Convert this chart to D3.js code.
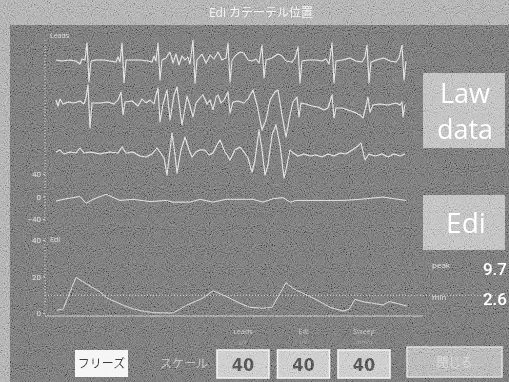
<!DOCTYPE html>
<html>
<head>
<meta charset="utf-8">
<script src="https://cdn.jsdelivr.net/npm/d3@7"></script>
<style>
  body { margin: 0; background: #6b6b6b; }
  svg { display: block; }
  text { font-family: "Open Sans", "Noto Sans CJK JP", sans-serif; }
</style>
</head>
<body>
<div id="mapa"></div>
<script>
const title = 'Edi カテーテル位置';

// time in px-like samples (0..350), values in lead units
const lead1 = [[0,2],[6,0],[14,2],[20,0],[24,-6],[26,4],[29,2],[31,36],[33,-42],[35,0],[40,2],[48,2],[54,0],[60,-2],[62,8],[64,-2],[66,36],[68,-44],[70,2],[76,2],[84,2],[92,0],[96,-2],[98,10],[100,0],[102,36],[104,-38],[106,2],[110,6],[114,18],[117,-4],[120,14],[123,-8],[126,10],[129,2],[132,8],[134,-6],[137,42],[139,-44],[141,2],[146,14],[150,-4],[154,12],[158,4],[162,18],[166,2],[170,6],[172,36],[174,-42],[176,2],[180,12],[184,18],[188,16],[192,2],[196,0],[200,4],[203,-4],[206,32],[208,-34],[210,2],[216,6],[222,14],[226,10],[230,0],[236,-2],[239,6],[242,28],[244,-44],[246,0],[252,2],[260,2],[266,0],[270,4],[273,-6],[276,36],[278,-44],[280,0],[286,2],[294,6],[300,0],[306,-2],[309,8],[311,32],[313,-44],[315,-2],[320,2],[328,6],[334,0],[340,-2],[343,6],[346,32],[348,-38],[350,0]];

const lead2 = [[0,6],[2,-6],[4,8],[7,-2],[12,2],[18,0],[24,4],[28,-2],[30,10],[32,36],[34,-50],[36,0],[44,0],[52,2],[58,-2],[62,6],[65,22],[67,-24],[69,2],[76,4],[82,-6],[86,8],[90,0],[94,6],[98,-2],[100,16],[102,30],[104,-38],[107,-2],[111,26],[114,-34],[118,16],[121,32],[124,-14],[126,-44],[129,-10],[131,14],[134,-6],[137,-28],[140,0],[144,10],[147,16],[151,-2],[154,6],[157,-14],[160,12],[162,16],[165,0],[168,6],[172,22],[174,-20],[177,2],[182,4],[188,0],[192,8],[197,26],[201,-4],[206,-54],[210,-34],[214,6],[219,22],[222,26],[226,-24],[230,-68],[234,-24],[237,2],[241,12],[243,-28],[245,0],[250,-2],[256,-6],[262,-8],[268,-14],[272,-10],[276,16],[278,-30],[280,-10],[286,-10],[292,-14],[298,-18],[304,-24],[307,-30],[310,-6],[312,12],[314,-18],[317,-4],[324,-2],[332,-4],[340,0],[344,-4],[346,2],[347,-28],[349,-2]];

const lead3 = [[0,2],[4,6],[8,-2],[14,2],[20,0],[24,10],[28,0],[34,2],[44,-2],[54,2],[62,0],[66,12],[70,0],[77,2],[84,-6],[90,-8],[96,-2],[101,10],[104,2],[108,-10],[111,-44],[114,6],[116,40],[119,-4],[121,-40],[125,6],[129,32],[133,6],[136,-8],[140,2],[144,6],[149,6],[153,-4],[157,0],[161,16],[164,26],[169,2],[174,-14],[179,6],[184,12],[188,2],[192,-10],[196,-38],[199,-14],[203,46],[206,6],[209,-44],[212,-24],[216,36],[220,56],[224,16],[228,-50],[231,-24],[234,6],[237,0],[242,-6],[248,-2],[254,-6],[260,-4],[266,-8],[272,-2],[278,-6],[284,0],[290,-2],[296,6],[302,14],[305,20],[309,-14],[313,-2],[319,-6],[326,-2],[332,-8],[338,-2],[344,-6],[349,-2]];

const lead4 = [[0,-8],[10,-4],[24,0],[30,-12],[37,-5],[50,4],[64,-7],[77,-5],[94,-9],[110,-7],[117,-10],[134,-10],[144,-5],[157,-10],[170,-5],[197,-5],[207,-10],[217,-4],[227,-2],[234,-10],[240,-7],[260,-7],[287,-7],[304,-5],[327,-1],[350,-7]];

const ediData = [[1,1.6],[7,2],[20,19.5],[34,14.8],[44,11.6],[51,8.2],[71,3.4],[84,1.3],[97,0.2],[117,0],[131,4.4],[141,6.7],[147,8.2],[157,12.2],[171,8.9],[184,5.3],[194,3.1],[207,2.6],[216,3.1],[224,10.8],[230,16.6],[237,13.5],[251,9.8],[261,7.1],[274,3.1],[287,1.1],[293,2],[299,7.5],[307,6.2],[317,5.3],[327,4.4],[333,6.2],[341,5.3],[351,3.8]];

const leadTicks = [-40, 0, 40];
const ediTicks = [0, 20, 40];
const peak = 9.7;
const minVal = 2.6;
const scaleNames = ['Leads', 'Edi', 'Sweep'];
const scaleUnits = ['µV', 'µV', 'mm/s'];
const scaleValues = [40, 40, 40];

const width = 509, height = 382;

const svg = d3.select('#mapa').append('svg')
    .attr('width', width)
    .attr('height', height);

// grain filter to mimic the scanned screen
const defs = svg.append('defs');
const grain = defs.append('filter').attr('id', 'grain')
    .attr('x', 0).attr('y', 0).attr('width', '100%').attr('height', '100%');
grain.append('feTurbulence')
    .attr('type', 'fractalNoise')
    .attr('baseFrequency', 0.95)
    .attr('numOctaves', 2)
    .attr('seed', 4);
grain.append('feColorMatrix').attr('type', 'saturate').attr('values', 0);
const ct = grain.append('feComponentTransfer');
['R', 'G', 'B'].forEach(c => ct.append('feFunc' + c).attr('type', 'linear').attr('slope', 2.2).attr('intercept', -0.6));
ct.append('feFuncA').attr('type', 'linear').attr('slope', 0).attr('intercept', 1);

// frame + title bar
svg.append('rect').attr('width', width).attr('height', height).attr('fill', '#a3a3a3');
svg.append('rect').attr('x', 10).attr('y', 25).attr('width', width - 10).attr('height', height - 25).attr('fill', '#6b6b6b');

svg.append('text')
    .attr('x', 261).attr('y', 17)
    .attr('text-anchor', 'middle')
    .attr('fill', '#f2f2f2')
    .style('font-size', '12px')
    .text(title);

// scales
const x = d3.scaleLinear().domain([0, 350]).range([56, 406]);
const leadBases = [61, 103, 153];
const leadScale = base => d3.scaleLinear().domain([-50, 50]).range([base + 25, base - 25]);
const lead4Y = d3.scaleLinear().domain([-40, 40]).range([219, 174]);
const ediY = d3.scaleLinear().domain([0, 40]).range([313, 240]);

const g = svg.append('g');

// vertical axis lines (dotted)
g.append('line').attr('x1', 45).attr('x2', 45).attr('y1', 40).attr('y2', 222)
    .attr('stroke', '#c4c4c4').attr('stroke-dasharray', '1,2');
g.append('line').attr('x1', 45).attr('x2', 45).attr('y1', 238).attr('y2', 316)
    .attr('stroke', '#c4c4c4').attr('stroke-dasharray', '1,2');

function styleAxis(sel) {
    sel.select('.domain').remove();
    sel.selectAll('line').attr('stroke', '#c4c4c4');
    sel.selectAll('text')
        .attr('fill', '#d6d6d6')
        .style('font-size', '8px')
        .style('font-family', 'Roboto, sans-serif');
}

g.append('g').attr('transform', 'translate(45,0)')
    .call(d3.axisLeft(lead4Y).tickValues(leadTicks).tickSize(2).tickPadding(2))
    .call(styleAxis);

g.append('g').attr('transform', 'translate(45,0)')
    .call(d3.axisLeft(ediY).tickValues(ediTicks).tickSize(2).tickPadding(2))
    .call(styleAxis);

g.append('text').attr('x', 50).attr('y', 38)
    .attr('fill', '#d0d0d0').style('font-size', '7px').text('Leads');
g.append('text').attr('x', 50).attr('y', 242)
    .attr('fill', '#d0d0d0').style('font-size', '7px').text('Edi');

// lead traces
const traces = [lead1, lead2, lead3];
traces.forEach((data, i) => {
    const y = leadScale(leadBases[i]);
    g.append('path')
        .datum(data)
        .attr('fill', 'none')
        .attr('stroke', '#e2e2e2')
        .attr('stroke-width', 1.05)
        .attr('stroke-linejoin', 'round')
        .attr('d', d3.line().x(d => x(d[0])).y(d => y(d[1])));
});

g.append('path')
    .datum(lead4)
    .attr('fill', 'none')
    .attr('stroke', '#dadada')
    .attr('stroke-width', 1)
    .attr('d', d3.line().x(d => x(d[0])).y(d => lead4Y(d[1])));

// Edi baseline and peak line
g.append('line').attr('x1', 45).attr('x2', 423).attr('y1', 316).attr('y2', 316)
    .attr('stroke', '#bdbdbd').attr('stroke-width', 1);
g.append('line').attr('x1', 45).attr('x2', 504).attr('y1', ediY(peak)).attr('y2', ediY(peak))
    .attr('stroke', '#c8c8c8').attr('stroke-dasharray', '1,2');

g.append('path')
    .datum(ediData)
    .attr('fill', 'none')
    .attr('stroke', '#cdcdcd')
    .attr('stroke-width', 1)
    .attr('d', d3.line().x(d => x(d[0])).y(d => ediY(d[1])));

// right side boxes
const side = svg.append('g');
side.append('rect').attr('x', 423).attr('y', 73).attr('width', 82).attr('height', 75).attr('fill', '#b6b6b6');
side.append('text').attr('x', 465).attr('y', 103).attr('text-anchor', 'middle')
    .attr('fill', '#ffffff').style('font-size', '27px').text('Law');
side.append('text').attr('x', 465).attr('y', 139).attr('text-anchor', 'middle')
    .attr('fill', '#ffffff').style('font-size', '27px').text('data');

side.append('rect').attr('x', 423).attr('y', 195).attr('width', 82).attr('height', 55).attr('fill', '#b6b6b6');
side.append('text').attr('x', 466).attr('y', 233).attr('text-anchor', 'middle')
    .attr('fill', '#ffffff').style('font-size', '28px').text('Edi');

side.append('text').attr('x', 432).attr('y', 268)
    .attr('fill', '#d8d8d8').style('font-size', '8px').text('peak');
side.append('text').attr('x', 507).attr('y', 275).attr('text-anchor', 'end')
    .attr('fill', '#ffffff').style('font-size', '17px').style('font-family', 'Roboto, sans-serif')
    .style('font-weight', 500).text(peak.toFixed(1));
side.append('text').attr('x', 432).attr('y', 300)
    .attr('fill', '#d8d8d8').style('font-size', '8px').text('min');
side.append('text').attr('x', 507).attr('y', 305).attr('text-anchor', 'end')
    .attr('fill', '#ffffff').style('font-size', '17px').style('font-family', 'Roboto, sans-serif')
    .style('font-weight', 500).text(minVal.toFixed(1));

// bottom controls
const bottom = svg.append('g');
bottom.append('rect').attr('x', 75).attr('y', 350).attr('width', 53).attr('height', 27).attr('fill', '#f4f4f4');
bottom.append('text').attr('x', 101.5).attr('y', 368).attr('text-anchor', 'middle')
    .attr('fill', '#333').style('font-size', '12px').text('フリーズ');

bottom.append('text').attr('x', 184).attr('y', 368).attr('text-anchor', 'middle')
    .attr('fill', '#b4b4b4').style('font-size', '12px').text('スケール');

const buttons = bottom.selectAll('.btn')
    .data(scaleValues.map((v, i) => ({ v, name: scaleNames[i], unit: scaleUnits[i], i })))
    .enter().append('g')
    .attr('class', 'btn')
    .attr('transform', d => `translate(${217 + d.i * 60.5},350)`);

buttons.append('rect')
    .attr('width', 52).attr('height', 28)
    .attr('fill', '#c3c3c3')
    .attr('stroke', '#f2f2f2').attr('stroke-width', 1.5);

buttons.append('text')
    .attr('x', 26).attr('y', 21)
    .attr('text-anchor', 'middle')
    .attr('fill', '#4a4a4a')
    .style('font-size', '18px')
    .style('font-weight', 'bold')
    .style('font-family', '"Liberation Sans Narrow", "DejaVu Sans Condensed", Roboto, sans-serif')
    .text(d => d.v);

buttons.append('text')
    .attr('x', 26).attr('y', -16)
    .attr('text-anchor', 'middle')
    .attr('fill', '#b8b8b8')
    .style('font-size', '7px')
    .text(d => d.name);

buttons.append('text')
    .attr('x', 26).attr('y', -6)
    .attr('text-anchor', 'middle')
    .attr('fill', '#949494')
    .style('font-size', '6px')
    .text(d => d.unit);

bottom.append('rect').attr('x', 407).attr('y', 347).attr('width', 95).attr('height', 30)
    .attr('fill', '#ababab').attr('stroke', '#d8d8d8').attr('stroke-width', 1.5);
bottom.append('text').attr('x', 454.5).attr('y', 367).attr('text-anchor', 'middle')
    .attr('fill', '#d2d2d2').style('font-size', '12px').text('閉じる');

// noise overlay
svg.append('rect')
    .attr('width', width).attr('height', height)
    .attr('filter', 'url(#grain)')
    .style('mix-blend-mode', 'overlay')
    .attr('opacity', 0.45)
    .style('pointer-events', 'none');
</script>
</body>
</html>
